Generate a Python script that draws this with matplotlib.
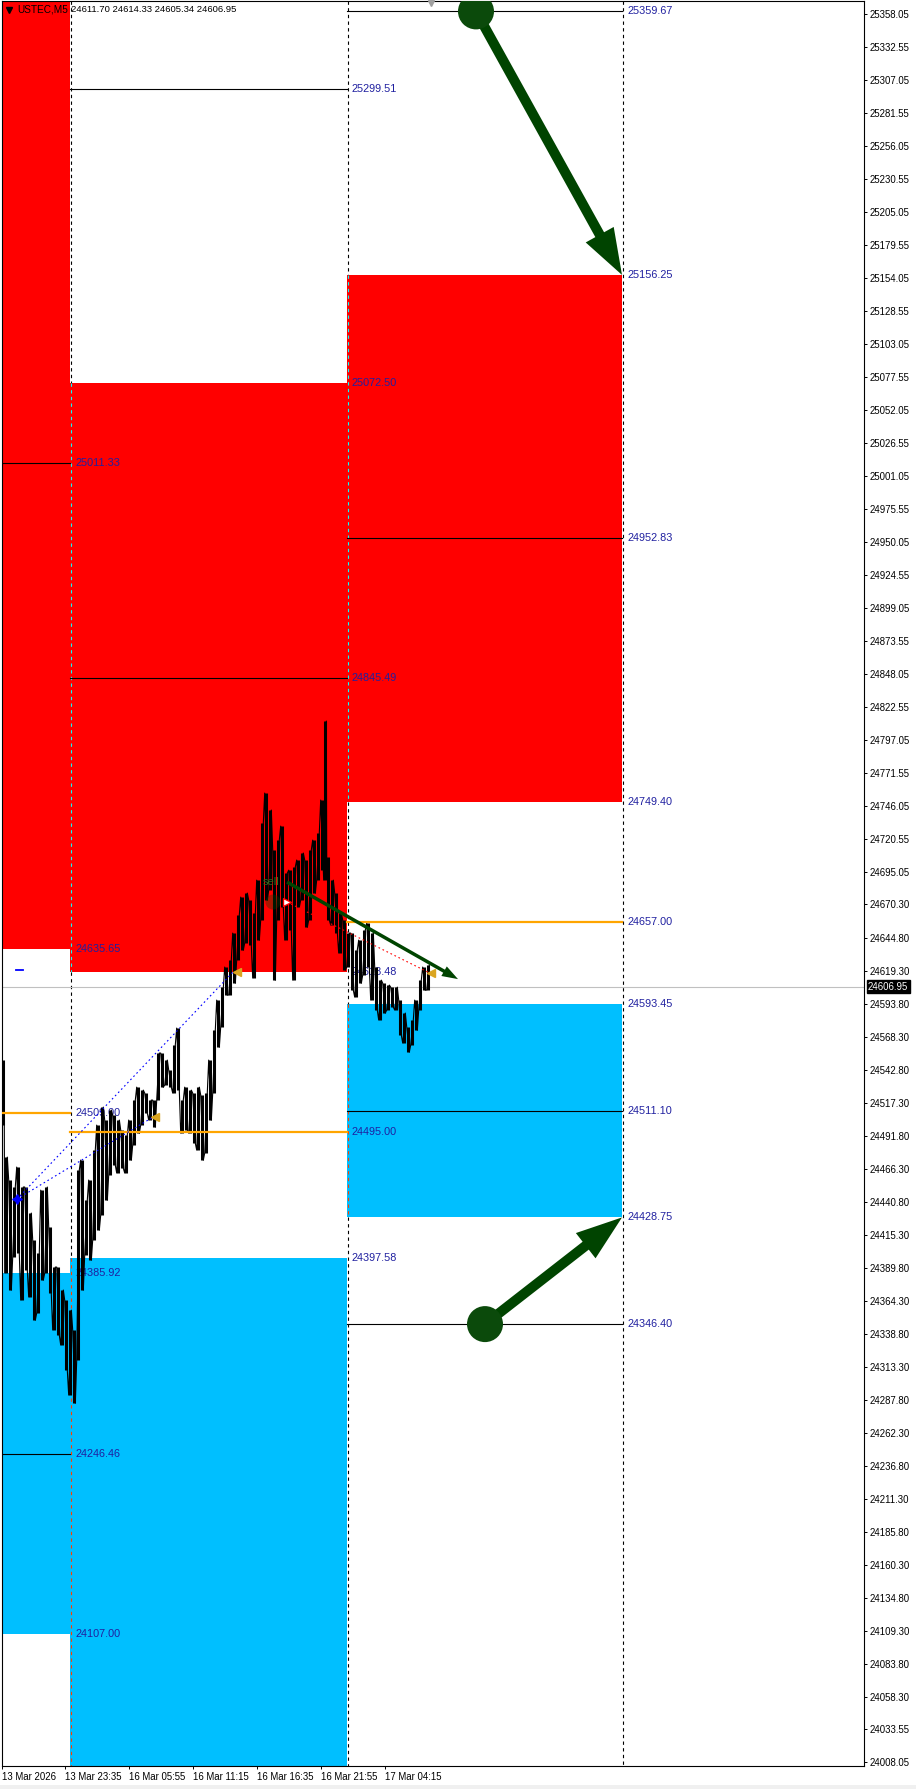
import matplotlib.pyplot as plt
from matplotlib.patches import FancyArrow, Circle, Rectangle
from matplotlib.transforms import IdentityTransform, blended_transform_factory

plt.rcParams['font.family'] = ['Liberation Sans', 'DejaVu Sans']

# M5 price, one high/low group every ~4 bars (x = bar column on chart)
bar_x = [3, 6, 10, 14, 18, 22, 26, 30, 34, 38, 42, 46, 50, 54, 58, 62, 66, 70, 74, 78,
         82, 86, 90, 94, 98, 102, 106, 110, 114, 118, 122, 126, 130, 134, 138, 142, 146, 150, 154, 158,
         162, 166, 170, 174, 178, 182, 186, 190, 194, 198, 202, 206, 210, 214, 218, 222, 226, 230, 234, 238,
         242, 246, 250, 254, 258, 262, 266, 270, 274, 278, 282, 286, 290, 294, 298, 302, 306, 310, 314, 318,
         322, 325, 328, 332, 336, 340, 344, 348, 352, 356, 360, 364, 368, 372, 376, 380, 384, 388, 392, 396,
         400, 404, 408, 412, 416, 420, 424, 428]
bar_high = [24550.2, 24475.3, 24457.6, 24452.2, 24467.6, 24452.2, 24452.2, 24432.1, 24411.3, 24401.2,
            24449.8, 24452.2, 24421.3, 24390.4, 24390.4, 24372.7, 24364.9, 24357.2, 24341.8, 24465.3,
            24473.0, 24442.1, 24457.6, 24480.7, 24500.0, 24513.9, 24503.9, 24511.6, 24507.7, 24503.9,
            24496.2, 24492.3, 24503.9, 24519.3, 24529.3, 24527.0, 24524.7, 24519.3, 24519.3, 24555.6,
            24555.6, 24550.2, 24542.5, 24561.8, 24574.9, 24519.3, 24529.3, 24527.0, 24524.7, 24529.3,
            24523.2, 24524.7, 24550.2, 24573.3, 24596.5, 24606.5, 24622.0, 24627.4, 24648.2, 24662.1,
            24676.0, 24679.1, 24673.7, 24663.7, 24689.1, 24733.1, 24756.3, 24743.2, 24712.3, 24720.0,
            24730.8, 24694.5, 24696.8, 24699.2, 24704.6, 24710.0, 24704.6, 24712.3, 24720.0, 24725.4,
            24750.9, 24811.9, 24706.9, 24689.1, 24679.1, 24663.7, 24658.3, 24648.2, 24648.2, 24635.1,
            24642.8, 24650.5, 24655.9, 24648.2, 24622.0, 24611.9, 24609.6, 24608.1, 24606.5, 24606.5,
            24596.5, 24586.5, 24575.7, 24581.1, 24596.5, 24611.9, 24622.0, 24623.5]
bar_low = [24500.0, 24385.8, 24372.7, 24398.1, 24401.2, 24364.9, 24388.1, 24367.3, 24349.5, 24354.9,
           24380.4, 24385.8, 24370.3, 24341.8, 24337.9, 24330.2, 24310.9, 24291.6, 24285.4, 24318.6,
           24372.7, 24399.7, 24395.8, 24411.3, 24419.0, 24430.5, 24442.1, 24461.4, 24469.1, 24463.0,
           24466.8, 24463.0, 24473.0, 24484.6, 24493.8, 24500.0, 24509.3, 24503.9, 24498.5, 24519.3,
           24529.3, 24530.9, 24529.3, 24524.7, 24527.0, 24493.8, 24496.2, 24493.8, 24486.1, 24480.7,
           24473.0, 24478.4, 24503.9, 24524.7, 24560.2, 24575.7, 24600.4, 24600.4, 24609.6, 24627.4,
           24635.1, 24640.5, 24639.0, 24613.5, 24642.8, 24658.3, 24673.7, 24681.4, 24611.9, 24658.3,
           24668.3, 24642.8, 24650.5, 24611.9, 24668.3, 24673.7, 24652.8, 24658.3, 24679.1, 24689.1,
           24696.8, 24689.1, 24658.3, 24654.4, 24648.2, 24632.8, 24619.7, 24622.0, 24604.2, 24598.8,
           24609.6, 24615.8, 24622.0, 24596.5, 24588.8, 24581.1, 24586.5, 24588.8, 24591.1, 24588.8,
           24569.5, 24563.3, 24556.4, 24561.8, 24573.3, 24588.8, 24604.2, 24604.2]

last_price = 24606.95
ohlc_text = "24611.70 24614.33 24605.34 24606.95"

# three zone columns
col_left = [2, 70, 347]
col_right = [70, 347, 622]
sep_x = [71, 348, 623]
red_top = [25520.0, 25072.50, 25156.25]
red_bottom = [24635.65, 24618.48, 24749.40]
blue_top = [24385.92, 24397.58, 24593.45]
blue_bottom = [24107.00, 23860.00, 24428.75]
black_levels = [[25011.33, 24246.46], [25299.51, 24845.49], [25359.67, 24952.83, 24511.10, 24346.40]]
orange_levels = [24509.00, 24495.00, 24657.00]
level_labels = [[25011.33, 24635.65, 24509.00, 24385.92, 24246.46, 24107.00],
                [25299.51, 25072.50, 24845.49, 24618.48, 24495.00, 24397.58],
                [25359.67, 25156.25, 24952.83, 24749.40, 24657.00, 24593.45, 24511.10, 24428.75, 24346.40]]
label_x = [76, 352, 628]

# trade marks
buy_start = (17, 24442.9)
buy_exits = [(233, 24618.1), (153, 24506.2)]
sell_start = (287, 24672.2)
sell_exit = (428, 24618.1)
exit_marks_x = [237, 155, 431]
exit_marks_p = [24618.1, 24506.2, 24617.4]

# arrows: (x0, p0) -> (x1, p1)
big_arrows = [((476, 25359.67), (622, 25156.25)), ((485, 24346.40), (622, 24428.75))]
small_arrow = ((287, 24687.6), (458, 24612.7))

yticks = [25358.05, 25332.55, 25307.05, 25281.55, 25256.05, 25230.55, 25205.05, 25179.55, 25154.05,
          25128.55, 25103.05, 25077.55, 25052.05, 25026.55, 25001.05, 24975.55, 24950.05, 24924.55,
          24899.05, 24873.55, 24848.05, 24822.55, 24797.05, 24771.55, 24746.05, 24720.55, 24695.05,
          24670.30, 24644.80, 24619.30, 24593.80, 24568.30, 24542.80, 24517.30, 24491.80, 24466.30,
          24440.80, 24415.30, 24389.80, 24364.30, 24338.80, 24313.30, 24287.80, 24262.30, 24236.80,
          24211.30, 24185.80, 24160.30, 24134.80, 24109.30, 24083.80, 24058.30, 24033.55, 24008.05]
xticks = [2, 65, 129, 193, 257, 321, 385]
xtick_labels = ['13 Mar 2026', '13 Mar 23:35', '16 Mar 05:55', '16 Mar 11:15',
                '16 Mar 16:35', '16 Mar 21:55', '17 Mar 04:15']

W, H = 916, 1789
P_LO, P_HI = 24005.3, 25367.7
RED, BLUE = '#ff0000', '#00bfff'
LBL = '#2020a0'

fig = plt.figure(figsize=(W / 100, H / 100), dpi=100)
ax = fig.add_axes([2 / W, (H - 1766) / H, 862 / W, 1765 / H])
ax.set_xlim(2, 864)
ax.set_ylim(P_LO, P_HI)

# zones
for i in range(3):
    w = col_right[i] - col_left[i]
    ax.add_patch(Rectangle((col_left[i], red_bottom[i]), w, red_top[i] - red_bottom[i],
                           color=RED, lw=0, zorder=1))
    ax.add_patch(Rectangle((col_left[i], blue_bottom[i]), w, blue_top[i] - blue_bottom[i],
                           color=BLUE, lw=0, zorder=1))
    for lv in black_levels[i]:
        ax.plot([col_left[i], col_right[i]], [lv, lv], color='black', lw=0.8, zorder=5)
    ax.plot([col_left[i], col_right[i]], [orange_levels[i]] * 2, color='#ffa500', lw=1.6, zorder=5)
    for lv in level_labels[i]:
        ax.text(label_x[i], lv, f"{lv:.2f}", color=LBL, fontsize=7.8, va='center', ha='left', zorder=3)

# separators: dashed, inverted colour over the zone to the right
for i, x in enumerate(sep_x):
    segs = [(P_HI, P_LO, 'black')]
    if i + 1 < 3:
        j = i + 1
        edges = sorted([(red_top[j], red_bottom[j], '#00ffff'), (blue_top[j], blue_bottom[j], '#ff4000')],
                       reverse=True)
        segs = []
        cur = P_HI
        for top, bot, c in edges:
            top, bot = min(top, P_HI), max(bot, P_LO)
            if top < cur:
                segs.append((cur, top, 'black'))
            segs.append((top, bot, c))
            cur = bot
        if cur > P_LO:
            segs.append((cur, P_LO, 'black'))
    for top, bot, c in segs:
        ax.plot([x, x], [top, bot], color=c, lw=0.8, ls=(0, (3, 3)), zorder=2)

ax.axhline(last_price, color='#c0c0c0', lw=0.8, zorder=2)

# price bars
ax.vlines(bar_x, bar_low, bar_high, color='black', lw=2.2, zorder=4)
zx, zy = [], []
for i, (x, h, l) in enumerate(zip(bar_x, bar_high, bar_low)):
    a, b = (h, l) if i % 2 == 0 else (l, h)
    zx += [x - 1.3, x + 1.3]
    zy += [a, b]
ax.plot(zx, zy, color='black', lw=0.8, zorder=4)

# trade history
for ex in buy_exits:
    ax.plot([buy_start[0], ex[0]], [buy_start[1], ex[1]], color='#0000ff', lw=0.8, ls=(0, (1.5, 2.5)), zorder=6)
ax.plot([sell_start[0], sell_exit[0]], [sell_start[1], sell_exit[1]], color='#ff0000', lw=0.8,
        ls=(0, (1.5, 2.5)), zorder=6)
ax.plot(*buy_start, marker=(4, 1, 0), color='#0000ff', ms=7, zorder=7)
ax.plot(exit_marks_x, exit_marks_p, ls='none', marker='<', color='#daa520', ms=6, zorder=7)
ax.plot([16, 23], [24619.7, 24619.7], color='#0000ff', lw=1.3, zorder=6)

# arrows drawn in pixel space
fig.canvas.draw()
T = ax.transData.transform
ID = IdentityTransform()
for (s, e) in big_arrows:
    p0, p1 = T(s), T(e)
    ax.add_patch(FancyArrow(p0[0], p0[1], p1[0] - p0[0], p1[1] - p0[1], width=10, head_width=32,
                            head_length=46, length_includes_head=True, color='#004400', lw=0,
                            transform=ID, zorder=8))
    ax.add_patch(Circle(p0, 18, color='#0b4a0b', lw=0, transform=ID, zorder=8))
p0, p1 = T(small_arrow[0]), T(small_arrow[1])
ax.add_patch(FancyArrow(p0[0], p0[1], p1[0] - p0[0], p1[1] - p0[1], width=3.5, head_width=11,
                        head_length=16, length_includes_head=True, color='#004400', lw=0,
                        transform=ID, zorder=8))
c = T(sell_start)
ax.add_patch(Circle((c[0] - 14, c[1]), 7.5, color='#004400', alpha=0.35, lw=0, transform=ID, zorder=7))
ax.plot(*sell_start, marker='>', mfc='white', mec='#ff0000', ms=6, mew=1, zorder=8)
ax.text(263, small_arrow[0][1], 'sell', color='#2d6a1e', fontsize=8, va='center', ha='left', zorder=7)

# header
ax.plot([7 / 862], [1 - 9 / 1765], marker='v', color='black', ms=4.5, transform=ax.transAxes,
        clip_on=False, zorder=9)
ax.text(15 / 862, 1 - 9 / 1765, 'USTEC,M5', transform=ax.transAxes, fontsize=7.2, va='center', zorder=9)
ax.text(69 / 862, 1 - 9 / 1765, ohlc_text, transform=ax.transAxes, fontsize=6.8, va='center', zorder=9)
ax.plot([431], [1 - 2 / 1765], marker='v', color='#a0a0a0', ms=5,
        transform=blended_transform_factory(ax.transData, ax.transAxes), clip_on=False, zorder=9)

# axes
ax.yaxis.tick_right()
ax.set_yticks(yticks)
ax.set_yticklabels([f"{v:.2f}" for v in yticks])
ax.set_xticks(xticks)
ax.set_xticklabels(xtick_labels)
for lab in ax.get_xticklabels():
    lab.set_ha('left')
ax.tick_params(axis='y', length=2.2, width=0.7, pad=1.5, labelsize=6.9)
ax.tick_params(axis='x', length=2.5, width=0.7, pad=2, labelsize=6.9)
for sp in ax.spines.values():
    sp.set_linewidth(0.8)

trans = blended_transform_factory(ax.transAxes, ax.transData)
ax.text(1 + 4 / 862, last_price, f"{last_price:.2f}", transform=trans, color='white', fontsize=6.9,
        va='center', ha='left', zorder=10, clip_on=False,
        bbox=dict(boxstyle='square,pad=0.15', fc='black', ec='black'))

fig.patches.append(Rectangle((0, 0), W, 4, transform=ID, color='#f0f0f0', lw=0))

fig.savefig('out.png', dpi=100)
